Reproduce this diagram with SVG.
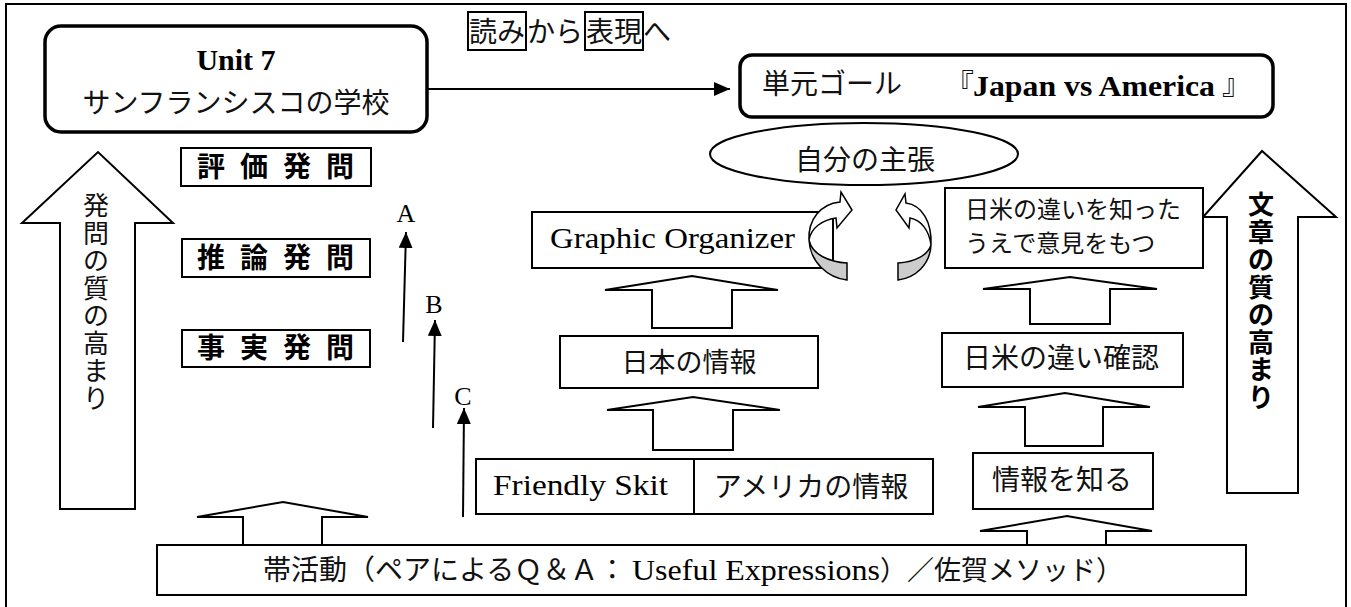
<svg xmlns="http://www.w3.org/2000/svg" width="1351" height="607" viewBox="0 0 1351 607">
<defs>
<style>
.frame{fill:none;stroke:#000;stroke-width:2}
.thick{fill:#fff;stroke:#000;stroke-width:3.5}
.box{fill:#fff;stroke:#000;stroke-width:2}
.blk{fill:#fff;stroke:#000;stroke-width:2;stroke-linejoin:miter}
.jp{font-family:"Noto Sans CJK JP","Liberation Serif",sans-serif;fill:#111}
.jpb{font-family:"Noto Sans CJK JP",sans-serif;font-weight:bold;fill:#000}
.en{font-family:"Liberation Serif","Noto Sans CJK JP",serif;fill:#000}
.conn{fill:none;stroke:#000;stroke-width:2}
</style>
<marker id="ah" viewBox="0 0 16 14" refX="16" refY="7" markerWidth="16" markerHeight="14" markerUnits="userSpaceOnUse" orient="auto">
<path d="M0,0 L16,7 L0,14 Z" fill="#000"/>
</marker>
</defs>
<rect x="0" y="0" width="1351" height="607" fill="#fff"/>
<rect class="frame" x="6" y="4" width="1340" height="640"/>

<g id="reading-to-expression">
<rect x="468" y="12" width="58" height="38" fill="none" stroke="#000" stroke-width="2"/>
<rect x="585" y="12" width="58" height="38" fill="none" stroke="#000" stroke-width="2"/>
<text class="jp" font-size="28" x="469 497 527 555 586 614 643" y="42">読みから表現へ</text>
</g>

<g id="unit7">
<rect class="thick" x="45" y="26" width="382" height="106" rx="16"/>
<text class="en" font-size="30" font-weight="bold" x="236" y="70" text-anchor="middle">Unit 7</text>
<text class="jp" font-size="28" x="236" y="113" text-anchor="middle">サンフランシスコの学校</text>
</g>

<g id="goal">
<rect class="thick" x="740" y="55" width="533" height="62" rx="12"/>
<text class="jp" font-size="28" x="762" y="94">単元ゴール</text>
<text class="jp" font-size="29" x="945" y="95">『</text>
<text class="en" font-size="30" font-weight="bold" x="973" y="96" textLength="242" lengthAdjust="spacingAndGlyphs">Japan vs America</text>
<text class="jp" font-size="29" x="1222" y="95">』</text>
</g>

<g id="connectors">
<line class="conn" x1="428" y1="89" x2="730" y2="89" marker-end="url(#ah)"/>
<line class="conn" x1="403" y1="342" x2="406" y2="232" marker-end="url(#ah)"/>
<line class="conn" x1="433" y1="428" x2="435" y2="320" marker-end="url(#ah)"/>
<line class="conn" x1="463" y1="517" x2="464" y2="408" marker-end="url(#ah)"/>
</g>

<g id="labels-abc">
<text class="en" font-size="26" x="406" y="222" text-anchor="middle">A</text>
<text class="en" font-size="26" x="434" y="313" text-anchor="middle">B</text>
<text class="en" font-size="26" x="463" y="405" text-anchor="middle">C</text>
</g>

<g id="q-eval">
<rect class="box" x="181" y="148" width="190" height="38"/>
<text class="jpb" font-size="28" x="197 240 283 326" y="177">評価発問</text>
</g>
<g id="q-infer">
<rect class="box" x="182" y="239" width="188" height="38"/>
<text class="jpb" font-size="28" x="197 240 283 326" y="268">推論発問</text>
</g>
<g id="q-fact">
<rect class="box" x="182" y="330" width="188" height="37"/>
<text class="jpb" font-size="28" x="197 240 283 326" y="358">事実発問</text>
</g>

<g id="left-big-arrow">
<path class="blk" d="M60,509 L60,223 L22,223 L98,152 L173,223 L135,223 L135,509 Z"/>
<text class="jp" font-size="26" x="96 96 96 96 96 96 96 96" y="215 242.5 270 297.5 325 352.5 380 407.5" text-anchor="middle">発問の質の高まり</text>
</g>

<g id="right-big-arrow">
<path class="blk" d="M1227,493 L1227,217 L1203,217 L1262,151 L1336,217 L1298,217 L1298,493 Z"/>
<text class="jpb" font-size="26" x="1261 1261 1261 1261 1261 1261 1261 1261" y="214 241.5 269 296.5 324 351.5 379 406.5" text-anchor="middle">文章の質の高まり</text>
</g>

<g id="claim">
<ellipse cx="864" cy="154" rx="154" ry="31" fill="#fff" stroke="#000" stroke-width="2"/>
<text class="jp" font-size="28" x="865" y="170" text-anchor="middle">自分の主張</text>
</g>

<g id="graphic-organizer">
<rect class="box" x="532" y="212" width="301" height="56"/>
<text class="en" font-size="29" x="550" y="248" textLength="245" lengthAdjust="spacingAndGlyphs">Graphic Organizer</text>
</g>

<g id="cycle-arrows">
<path d="M809,240 C810,262 828,278 847,280 L847,263 C830,262 812,255 809,240 Z" fill="#ccc" stroke="#000" stroke-width="1.5"/>
<path d="M809,240 C808,220 820,204 840,202 L841,192 L852,210 L837,228 L836,218 C822,220 811,228 809,240 Z" fill="#fff" stroke="#000" stroke-width="1.5"/>
<path d="M931,245 C930,265 915,278 898,280 L898,263 C915,262 928,255 931,245 Z" fill="#ccc" stroke="#000" stroke-width="1.5"/>
<path d="M931,245 C932,222 922,205 906,203 L905,194 L896,210 L909,228 L910,218 C921,220 929,230 931,245 Z" fill="#fff" stroke="#000" stroke-width="1.5"/>
</g>

<g id="up-arrow-go">
<path class="blk" d="M652,328 L652,290 L605,290 L692,276 L778,290 L732,290 L732,328 Z"/>
</g>

<g id="japan-info">
<rect class="box" x="560" y="336" width="258" height="52"/>
<text class="jp" font-size="27" x="689" y="372" text-anchor="middle">日本の情報</text>
</g>

<g id="up-arrow-japan">
<path class="blk" d="M653,450 L653,410 L607,410 L693,397 L780,410 L733,410 L733,450 Z"/>
</g>

<g id="skit-america">
<rect class="box" x="476" y="459" width="457" height="55"/>
<line x1="694" y1="459" x2="694" y2="514" stroke="#000" stroke-width="2"/>
<text class="en" font-size="29" x="493" y="495" textLength="175" lengthAdjust="spacingAndGlyphs">Friendly Skit</text>
<text class="jp" font-size="28" x="811" y="497" text-anchor="middle">アメリカの情報</text>
</g>

<g id="opinion">
<rect class="box" x="945" y="188" width="258" height="80"/>
<text class="jp" font-size="24" x="965" y="218">日米の違いを知った</text>
<text class="jp" font-size="24" x="965" y="252">うえで意見をもつ</text>
</g>

<g id="up-arrow-opinion">
<path class="blk" d="M1030,324 L1030,289 L983,289 L1070,277 L1157,289 L1110,289 L1110,324 Z"/>
</g>

<g id="diff-check">
<rect class="box" x="942" y="333" width="241" height="54"/>
<text class="jp" font-size="28" x="1061" y="368" text-anchor="middle">日米の違い確認</text>
</g>

<g id="up-arrow-diff">
<path class="blk" d="M1025,446 L1025,407 L978,407 L1065,393 L1150,407 L1103,407 L1103,446 Z"/>
</g>

<g id="know-info">
<rect class="box" x="973" y="453" width="180" height="56"/>
<text class="jp" font-size="28" x="1062" y="490" text-anchor="middle">情報を知る</text>
</g>

<g id="up-arrow-band-left">
<path class="blk" d="M243,545 L243,517 L197,517 L283,502 L368,517 L322,517 L322,545 Z"/>
</g>
<g id="up-arrow-band-right">
<path class="blk" d="M1027,545 L1027,531 L980,531 L1067,516 L1152,531 L1106,531 L1106,545 Z"/>
</g>

<g id="band">
<rect class="box" x="157" y="545" width="1089" height="50"/>
<text class="jp" font-size="28" x="263" y="580">帯活動（ペアによるＱ＆Ａ：<tspan class="en" x="632" y="580" font-size="29" textLength="248" lengthAdjust="spacingAndGlyphs">Useful Expressions</tspan><tspan x="880" y="580" font-size="27">）／佐賀メソッド）</tspan></text>
</g>
</svg>
